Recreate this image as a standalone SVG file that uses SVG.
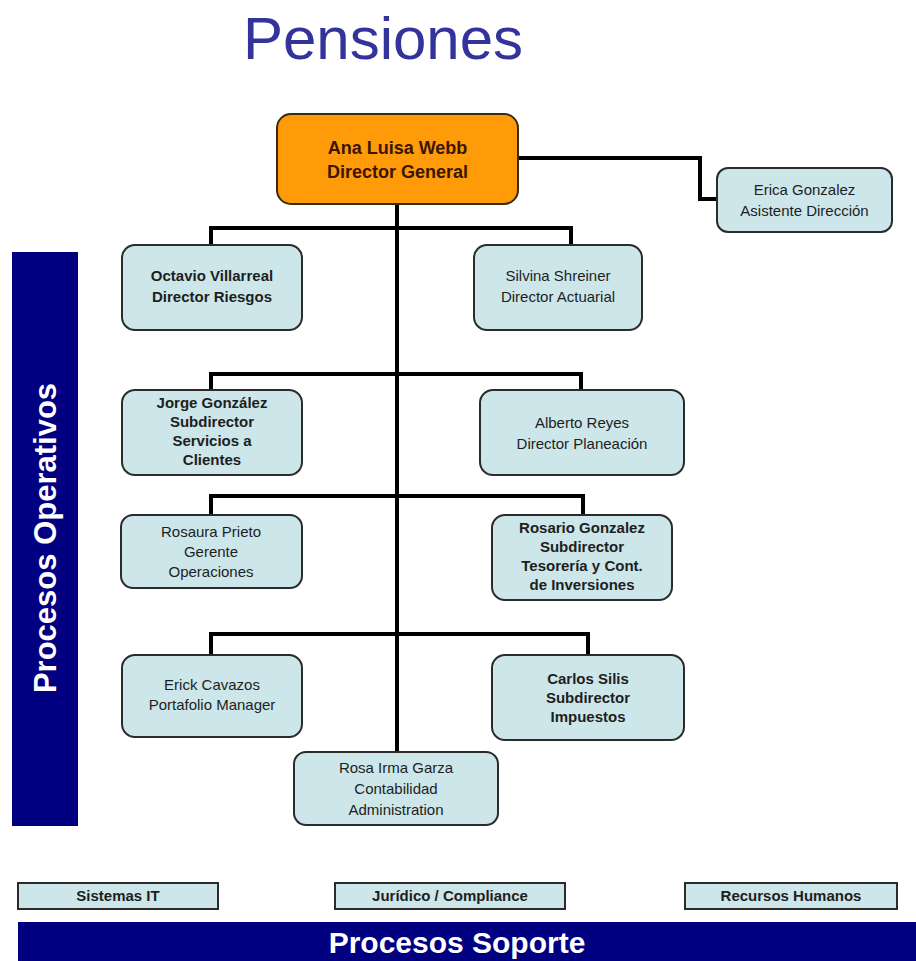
<svg xmlns="http://www.w3.org/2000/svg" width="916" height="961" viewBox="0 0 916 961">
<style>
.box{fill:#CCE6EA;stroke:#2b2b2b;stroke-width:2}
.t{font-family:"Liberation Sans",Arial,sans-serif;font-size:15px;fill:#1e1e1e;text-anchor:middle}
.b{font-weight:bold}
.line{stroke:#000;stroke-width:4;fill:none}
.sq{fill:#CCE6EA;stroke:#2b2b2b;stroke-width:2}
</style>
<rect width="916" height="961" fill="#fff"/>
<text x="383" y="59" font-family="Liberation Sans,Arial,sans-serif" font-size="60" fill="#33339C" text-anchor="middle">Pensiones</text>

<g id="band-operativos">
<rect x="12" y="252" width="66" height="574" fill="#000080"/>
<text transform="translate(56,538) rotate(-90)" font-family="Liberation Sans,Arial,sans-serif" font-size="31" font-weight="bold" fill="#fff" text-anchor="middle">Procesos Operativos</text>
</g>

<g id="connectors">
<path class="line" d="M397 204 V752"/>
<path class="line" d="M518 158 H700 V199 H717"/>
<path class="line" d="M211 245 V228 H571 V245"/>
<path class="line" d="M211 390 V374 H581 V390"/>
<path class="line" d="M211 515 V496 H583 V515"/>
<path class="line" d="M211 655 V634 H588 V655"/>
</g>

<g id="n-ana">
<rect x="277" y="114" width="241" height="90" rx="14" fill="#FF9A08" stroke="#3a2a10" stroke-width="2"/>
<text class="t b" x="397.5" y="154" style="font-size:18px;fill:#3a1500">Ana Luisa Webb</text>
<text class="t b" x="397.5" y="178" style="font-size:18px;fill:#3a1500">Director General</text>
</g>

<g id="n-erica">
<rect class="box" x="717" y="168" width="175" height="64" rx="11"/>
<text class="t" x="804.5" y="195">Erica Gonzalez</text>
<text class="t" x="804.5" y="216">Asistente Dirección</text>
</g>

<g id="n-octavio">
<rect class="box" x="122" y="245" width="180" height="85" rx="13"/>
<text class="t b" x="212" y="281">Octavio Villarreal</text>
<text class="t b" x="212" y="302">Director Riesgos</text>
</g>

<g id="n-silvina">
<rect class="box" x="474" y="245" width="168" height="85" rx="13"/>
<text class="t" x="558" y="281">Silvina Shreiner</text>
<text class="t" x="558" y="302">Director Actuarial</text>
</g>

<g id="n-jorge">
<rect class="box" x="122" y="390" width="180" height="85" rx="13"/>
<text class="t b" x="212" y="408">Jorge González</text>
<text class="t b" x="212" y="427">Subdirector</text>
<text class="t b" x="212" y="446">Servicios a</text>
<text class="t b" x="212" y="465">Clientes</text>
</g>

<g id="n-alberto">
<rect class="box" x="480" y="390" width="204" height="85" rx="13"/>
<text class="t" x="582" y="428">Alberto Reyes</text>
<text class="t" x="582" y="449">Director Planeación</text>
</g>

<g id="n-rosaura">
<rect class="box" x="121" y="515" width="181" height="73" rx="12"/>
<text class="t" x="211" y="537">Rosaura Prieto</text>
<text class="t" x="211" y="557">Gerente</text>
<text class="t" x="211" y="577">Operaciones</text>
</g>

<g id="n-rosario">
<rect class="box" x="492" y="515" width="180" height="85" rx="13"/>
<text class="t b" x="582" y="533">Rosario Gonzalez</text>
<text class="t b" x="582" y="552">Subdirector</text>
<text class="t b" x="582" y="571">Tesorería y Cont.</text>
<text class="t b" x="582" y="590">de Inversiones</text>
</g>

<g id="n-erick">
<rect class="box" x="122" y="655" width="180" height="82" rx="13"/>
<text class="t" x="212" y="690">Erick Cavazos</text>
<text class="t" x="212" y="710">Portafolio Manager</text>
</g>

<g id="n-carlos">
<rect class="box" x="492" y="655" width="192" height="85" rx="13"/>
<text class="t b" x="588" y="684">Carlos Silis</text>
<text class="t b" x="588" y="703">Subdirector</text>
<text class="t b" x="588" y="722">Impuestos</text>
</g>

<g id="n-rosa">
<rect class="box" x="294" y="752" width="204" height="73" rx="12"/>
<text class="t" x="396" y="773">Rosa Irma Garza</text>
<text class="t" x="396" y="794">Contabilidad</text>
<text class="t" x="396" y="815">Administration</text>
</g>

<g id="n-sistemas">
<rect class="sq" x="18" y="883" width="200" height="26"/>
<text class="t b" x="118" y="901">Sistemas IT</text>
</g>
<g id="n-juridico">
<rect class="sq" x="335" y="883" width="230" height="26"/>
<text class="t b" x="450" y="901">Jurídico / Compliance</text>
</g>
<g id="n-recursos">
<rect class="sq" x="685" y="883" width="212" height="26"/>
<text class="t b" x="791" y="901">Recursos Humanos</text>
</g>

<g id="band-soporte">
<rect x="18" y="922" width="898" height="39" fill="#000080"/>
<text x="457" y="953" font-family="Liberation Sans,Arial,sans-serif" font-size="30" font-weight="bold" fill="#fff" text-anchor="middle">Procesos Soporte</text>
</g>
</svg>
